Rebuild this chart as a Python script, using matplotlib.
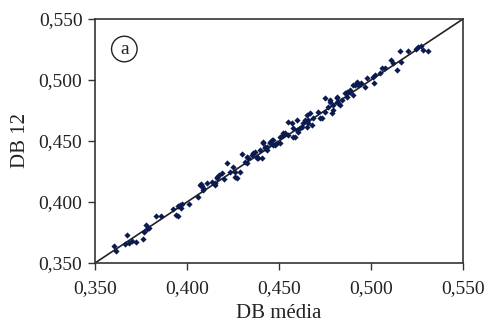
import matplotlib
matplotlib.use("Agg")
import matplotlib.pyplot as plt

plt.rcParams['font.family'] = ['Liberation Serif', 'DejaVu Serif']

db_media = [0.3603, 0.3612, 0.3663, 0.3676, 0.3687, 0.3703, 0.3724, 0.3759, 0.3766, 0.3775,
            0.3784, 0.3793, 0.3832, 0.3857, 0.3926, 0.3938, 0.3953, 0.3949, 0.3962, 0.3975,
            0.3967, 0.4012,
            0.4062, 0.4071, 0.4080, 0.4076, 0.4107, 0.4089, 0.4152, 0.4161, 0.4161, 0.4176,
            0.4189, 0.4152, 0.4216, 0.4252, 0.4261, 0.4261, 0.4270, 0.4288, 0.4297, 0.4315,
            0.4324, 0.4333, 0.4351, 0.4360, 0.4370, 0.4379, 0.4388, 0.4397, 0.4406, 0.4415,
            0.4415, 0.4424, 0.4433, 0.4433, 0.4451, 0.4460, 0.4469, 0.4469, 0.4478, 0.4488,
            0.4505, 0.4524, 0.4533, 0.4551,
            0.4569, 0.4578, 0.4587, 0.4596, 0.4605, 0.4623, 0.4632, 0.4651, 0.4659, 0.4668,
            0.4678, 0.4687, 0.4714, 0.4723, 0.4750, 0.4750, 0.4768, 0.4777, 0.4786, 0.4795,
            0.4813, 0.4813, 0.4822, 0.4832, 0.4841, 0.4859, 0.4868, 0.4886, 0.4886, 0.4904,
            0.4913, 0.4922, 0.4931, 0.4944, 0.4967, 0.5013, 0.5022, 0.5018, 0.5049, 0.5058,
            0.5076, 0.5107, 0.5118, 0.5140, 0.5161, 0.5158, 0.5199, 0.5245, 0.5257, 0.5270,
            0.5281, 0.5312,
            0.4324, 0.4379, 0.4424, 0.4451, 0.4505, 0.4524, 0.4551, 0.4578, 0.4596, 0.4614,
            0.4651, 0.4659, 0.4641, 0.4732, 0.4777, 0.4795, 0.4813, 0.4868, 0.4904, 0.4976,
            0.4085, 0.4135, 0.4200, 0.4235]
db_12 = [0.3642, 0.3598, 0.3656, 0.3730, 0.3661, 0.3683, 0.3672, 0.3697, 0.3757, 0.3809,
         0.3776, 0.3784, 0.3885, 0.3885, 0.3943, 0.3893, 0.3885, 0.3967, 0.3975, 0.3984,
         0.3953, 0.3984,
         0.4044, 0.4139, 0.4134, 0.4150, 0.4152, 0.4112, 0.4153, 0.4194, 0.4207, 0.4221,
         0.4235, 0.4139, 0.4317, 0.4290, 0.4207, 0.4248, 0.4194, 0.4248, 0.4393, 0.4330,
         0.4317, 0.4358, 0.4385, 0.4399, 0.4412, 0.4358, 0.4358, 0.4426, 0.4358, 0.4481,
         0.4494, 0.4453, 0.4453, 0.4426, 0.4494, 0.4508, 0.4467, 0.4508, 0.4467, 0.4481,
         0.4481, 0.4549, 0.4563, 0.4549,
         0.4645, 0.4604, 0.4535, 0.4672, 0.4576, 0.4617, 0.4645, 0.4617, 0.4672, 0.4727,
         0.4631, 0.4686, 0.4740, 0.4686, 0.4740, 0.4850, 0.4781, 0.4836, 0.4727, 0.4754,
         0.4822, 0.4850, 0.4809, 0.4795, 0.4836, 0.4891, 0.4863, 0.4918, 0.4904, 0.4877,
         0.4959, 0.4986, 0.4959, 0.4973, 0.4945, 0.5027, 0.5041, 0.4973, 0.5055, 0.5096,
         0.5101, 0.5164, 0.5136, 0.5082, 0.5150, 0.5238, 0.5238, 0.5252, 0.5273, 0.5281,
         0.5246, 0.5238,
         0.4371, 0.4371, 0.4440, 0.4481, 0.4535, 0.4563, 0.4658, 0.4535, 0.4590, 0.4604,
         0.4713, 0.4645, 0.4672, 0.4686, 0.4822, 0.4795, 0.4863, 0.4904, 0.4959, 0.5014,
         0.4095, 0.4160, 0.4185, 0.4250]

ticks = [0.350, 0.400, 0.450, 0.500, 0.550]
tick_labels = ["0,350", "0,400", "0,450", "0,500", "0,550"]

fig = plt.figure(figsize=(4.89, 3.22), dpi=100)
ax = fig.add_axes([95/489, 59/322, 368/489, 244/322])

ax.plot([0.35, 0.55], [0.35, 0.55], color='#222222', lw=1.2, zorder=2)
ax.scatter(db_media, db_12, marker='D', s=10, color='#0b1a50', linewidths=0, zorder=3)

ax.set_xlim(0.35, 0.55)
ax.set_ylim(0.35, 0.55)
ax.set_xticks(ticks)
ax.set_xticklabels(tick_labels)
ax.set_yticks(ticks)
ax.set_yticklabels(tick_labels)
ax.tick_params(direction='out', length=5, width=1, colors='#333333', labelcolor='#222222',
               labelsize=14, pad=4)
ax.tick_params(axis='x', pad=7)
for s in ax.spines.values():
    s.set_color('#333333')
    s.set_linewidth(1.2)

ax.set_xlabel("DB média", fontsize=15, color='#222222', labelpad=5)
ax.set_ylabel("DB 12", fontsize=15, color='#222222', labelpad=6)

ax.text(0.0797, 0.877, "a", transform=ax.transAxes, ha='center', va='center', fontsize=14,
        color='#222222',
        bbox=dict(boxstyle='circle,pad=0.22', fc='white', ec='#222222', lw=1.0))

fig.savefig("out.png", dpi=100)
